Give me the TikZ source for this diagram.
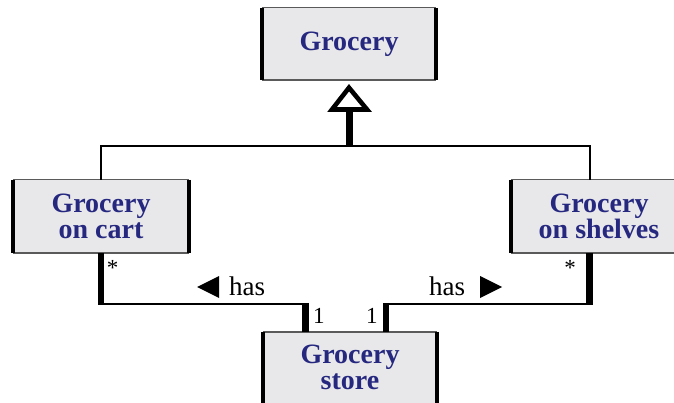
\documentclass[tikz,border=0pt]{standalone}
\usepackage{fontspec}
\setmainfont{Liberation Serif}
\definecolor{boxfill}{RGB}{232,232,234}
\definecolor{boxedge}{RGB}{90,90,90}
\definecolor{classtext}{RGB}{38,40,128}
\begin{document}
\begin{tikzpicture}[x=1pt,y=-1pt,
  classbox/.style={fill=boxfill, draw=none, inner sep=0pt, align=center,
    text=classtext, font=\bfseries\fontsize{28}{26}\selectfont},
  rim/.style={draw=boxedge, line width=1.4pt},
  side/.style={draw=black, line width=3.6pt},
  genline/.style={draw=black, line width=2.4pt},
  assoc/.style={draw=black, line width=2.2pt},
  assocend/.style={draw=black, line width=6.5pt},
  lbl/.style={inner sep=0pt, font=\fontsize{27}{27}\selectfont},
  mult/.style={inner sep=0pt, font=\fontsize{23}{23}\selectfont},
]
\useasboundingbox (0,0) rectangle (674,403);
\clip (0,0) rectangle (674,403);

% class boxes
\node[classbox, minimum width=174pt, minimum height=72pt] (grocery) at (349,44) {Grocery};
\node[classbox, minimum width=176pt, minimum height=73pt] (cart) at (101,216.5) {Grocery\\on cart};
\node[classbox, minimum width=176pt, minimum height=73pt] (shelves) at (599,216.5) {Grocery\\on shelves};
\node[classbox, minimum width=174pt, minimum height=80pt, text depth=10pt] (store) at (350,372) {Grocery\\store};

% box outlines: thin top and bottom, heavy sides
\foreach \b in {grocery,cart,shelves,store}{
  \draw[rim] (\b.north west) -- (\b.north east);
  \draw[rim] (\b.south west) -- (\b.south east);
  \draw[side] (\b.north west) -- (\b.south west);
  \draw[side] (\b.north east) -- (\b.south east);
}

% generalization: subclasses joined to one hollow arrow
\coordinate (junction) at (349.5,146);
\coordinate (tipbase) at (349.5,109.5);
\draw[genline] (cart.north) |- (junction) -| ([xshift=-9pt]shelves.north);
\draw[draw=black, line width=7pt] (junction) -- (tipbase);
\draw[draw=black, fill=white, line width=4.6pt, line join=miter]
  ([yshift=-7.5pt]grocery.south) -- ([xshift=-17.5pt]tipbase) -- ([xshift=17.5pt]tipbase) -- cycle;

% associations to the store
\coordinate (lcorner) at (101,304);
\coordinate (lstore) at (305.5,304);
\coordinate (rstore) at (386,304);
\coordinate (rcorner) at (589.5,304);
\draw[assoc] (lcorner) -- (lstore);
\draw[assoc] (rstore) -- (rcorner);
\draw[assocend] (cart.south) -- ([yshift=-1.1pt]lcorner);
\draw[assocend] ([yshift=1.1pt]lstore) -- ([xshift=-44.5pt]store.north);
\draw[assocend] ([xshift=-9.5pt]shelves.south) -- ([yshift=-1.1pt]rcorner);
\draw[assocend] ([yshift=1.1pt]rstore) -- ([xshift=36pt]store.north);

% association names with reading-direction triangles
\node[lbl, anchor=base west] (hasL) at (229,295) {has};
\fill[black] (197,287) -- (219,276) -- (219,298) -- cycle;
\node[lbl, anchor=base west] (hasR) at (429,295) {has};
\fill[black] (502,287) -- (480,276) -- (480,298) -- cycle;

% multiplicities
\node[mult, anchor=base west] (m1) at (313,323) {1};
\node[mult, anchor=base west] (m2) at (366,323) {1};
\node[mult, anchor=center] (s1) at (112.5,268) {*};
\node[mult, anchor=center] (s2) at (570,268) {*};
\end{tikzpicture}
\end{document}
